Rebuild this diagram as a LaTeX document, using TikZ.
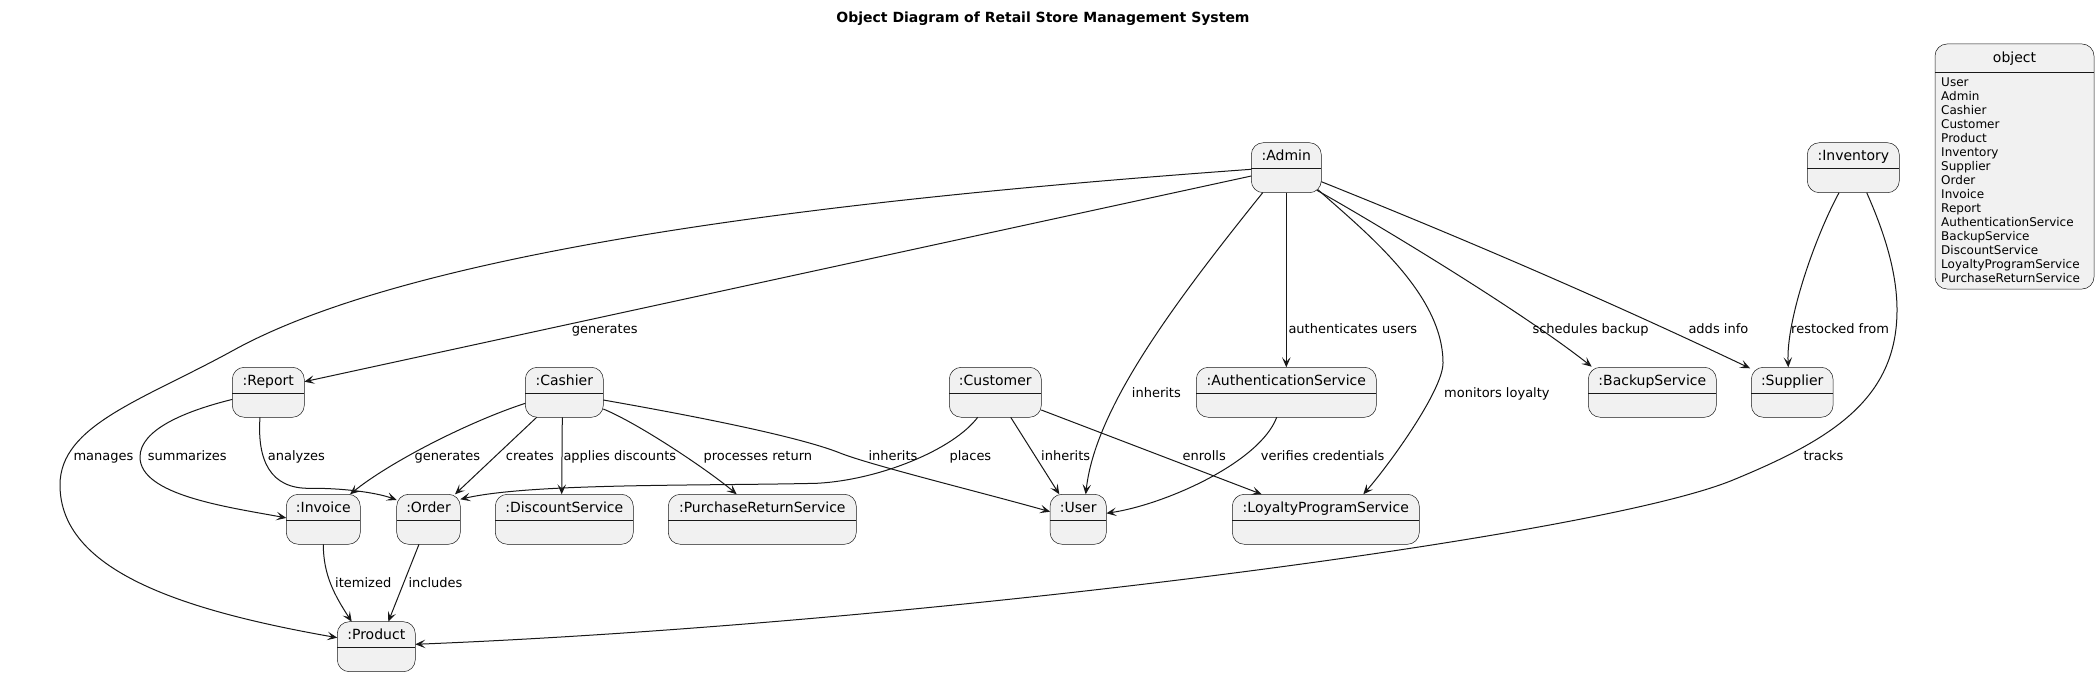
\documentclass[tikz,border=0pt]{standalone}
\usepackage{fontspec}
\setmainfont{DejaVu Sans}
\usetikzlibrary{arrows.meta}
\definecolor{ln}{HTML}{181818}
\definecolor{objfill}{HTML}{F1F1F1}
\tikzset{
  objbox/.style={draw=ln, line width=0.5pt, fill=objfill, rounded corners=12pt,
    minimum height=50pt, inner sep=0pt, outer sep=0pt},
  objrule/.style={draw=ln, line width=0.5pt},
  objname/.style={anchor=base, inner sep=0pt, font=\fontsize{14}{16}\selectfont},
  member/.style={anchor=base west, inner sep=0pt, font=\fontsize{12}{14}\selectfont},
  lbl/.style={anchor=base west, inner sep=0pt, font=\fontsize{13}{15}\selectfont},
  ttl/.style={anchor=base, inner sep=0pt, font=\fontsize{14}{16}\selectfont\bfseries},
  arr/.style={draw=ln, line width=1pt, -{Stealth[length=10pt,width=8.5pt,inset=4.5pt]}},
}
\newcommand\objnode[5]{%
  \node[objbox, minimum width=#4pt] (#1) at (#2,#3+25) {};
  \draw[objrule] (#1.west |- 0,#3+26) -- (#1.east |- 0,#3+26);
  \node[objname] (#1-name) at (#2,#3+18) {#5};
}
\begin{document}
\begin{tikzpicture}[x=1pt,y=-1pt]
\fill[white] (0,0) rectangle (2100,676);
\useasboundingbox (0,0) rectangle (2100,676);

\node[ttl] (title) at (1043,22.4) {Object Diagram of Retail Store Management System};

% objects
\objnode{admin}{1286.3}{142.7}{70}{:Admin}
\objnode{inventory}{1853.3}{142.7}{92}{:Inventory}
\objnode{report}{268.3}{367.3}{72}{:Report}
\objnode{cashier}{564.3}{367.3}{78}{:Cashier}
\objnode{customer}{995.3}{367.3}{92}{:Customer}
\objnode{auth}{1286.3}{367.3}{180}{:AuthenticationService}
\objnode{backup}{1652.3}{367.3}{128}{:BackupService}
\objnode{supplier}{1792.2}{367.3}{81.7}{:Supplier}
\objnode{invoice}{323.3}{494.3}{74}{:Invoice}
\objnode{order}{428.5}{494.3}{63.6}{:Order}
\objnode{discount}{564.3}{494.3}{138}{:DiscountService}
\objnode{prs}{762.3}{494.3}{188}{:PurchaseReturnService}
\objnode{user}{1078.2}{494.3}{56.3}{:User}
\objnode{loyalty}{1325.8}{494.3}{187}{:LoyaltyProgramService}
\objnode{product}{376.3}{621.7}{78}{:Product}

% legend object
\node[objbox, minimum width=159pt, minimum height=245pt] (legend) at (2014.5,166.5) {};
\draw[objrule] (legend.west |- 0,72) -- (legend.east |- 0,72);
\node[objname] (legend-name) at (2014.5,62.3) {object};
\foreach \m [count=\i] in {User,Admin,Cashier,Customer,Product,Inventory,Supplier,Order,Invoice,Report,AuthenticationService,BackupService,DiscountService,LoyaltyProgramService,PurchaseReturnService}
  \node[member] (m\i) at (1941,72.7+14*\i) {\m};

% edges
\draw[arr] (admin.west |- 0,169.3) .. controls (911,194) and (433,240) .. (233,350.5)
  .. controls (143,400) and (60,425) .. (60,485)
  .. controls (60,570) and (180,610) .. (product.west |- 0,637.7);
\draw[arr] (admin.west |- 0,176) -- (report.east |- 0,381.7);
\draw[arr] (admin.south -| 1262.7,0) .. controls (1170,308) and (1095,410) .. (user.north -| 1085.7,0);
\draw[arr] (admin.south) -- (auth.north);
\draw[arr] ([shift={(-3.3,-3)}]admin.south east) .. controls (1363.6,230.7) and (1443,293) .. (1443,363)
  .. controls (1443,390) and (1390,463.7) .. (loyalty.north -| 1363.3,0);
\draw[arr] ([shift={(-4.6,-2.5)}]admin.south east) .. controls (1370,220) and (1520,310) .. ([shift={(3.4,-0.6)}]backup.north west);
\draw[arr] (admin.east |- 0,181.7) .. controls (1463.7,238.7) and (1607,300.3) .. ([shift={(-1.3,1)}]supplier.north west);
\draw[arr] (inventory.south -| 1839,0) .. controls (1815,237) and (1786,320) .. (supplier.north -| 1788.3,0);
\draw[arr] (inventory.south -| 1866.7,0) .. controls (1882.7,228.8) and (1897,270) .. (1897,310)
  .. controls (1897,400) and (1830,440) .. (1733,480)
  .. controls (1595,537) and (915.3,624.3) .. (product.east |- 0,644.3);
\draw[arr] (report.west |- 0,399.4) .. controls (183.8,411.4) and (140,430) .. (140,457)
  .. controls (140,495) and (226.7,506.9) .. (invoice.west |- 0,517.9);
\draw[arr] (report.south -| 260,0) .. controls (257,460) and (270,489) .. (310,488.3)
  .. controls (340,488) and (375,492) .. (order.west |- 0,500);
\draw[arr] (cashier.west |- 0,403.3) .. controls (468.3,421.9) and (390,462) .. (invoice.north -| 350,0);
\draw[arr] (cashier.south -| 536.7,0) -- (order.north -| 455,0);
\draw[arr] (cashier.south -| 562.3,0) -- (discount.north -| 561.7,0);
\draw[arr] (cashier.east |- 0,409) .. controls (640,424.2) and (709.7,471.3) .. (prs.north -| 736.7,0);
\draw[arr] (cashier.east |- 0,400) .. controls (700,417) and (800,437) .. (840,453)
  .. controls (870,465) and (980,492) .. (user.west |- 0,511.7);
\draw[arr] (customer.south -| 977.7,0) .. controls (953.7,449.3) and (880,480) .. (816.7,483.3)
  .. controls (700,486) and (530,483) .. (order.east |- 0,499.3);
\draw[arr] (customer.south -| 1010.7,0) -- (user.north -| 1059.3,0);
\draw[arr] (customer.east |- 0,410) -- (loyalty.north -| 1261.7,0);
\draw[arr] (auth.south -| 1276.7,0) .. controls (1260,462) and (1166.1,504.3) .. (user.east |- 0,513.3);
\draw[arr] (invoice.south) .. controls (323.3,575) and (334.6,595.4) .. (product.north -| 351.7,0);
\draw[arr] (order.south -| 419,0) -- (product.north -| 388.3,0);

% labels
\node[lbl] (l-genrep) at (571.7,333) {generates};
\node[lbl] (l-auth) at (1288.3,333) {authenticates users};
\node[lbl] (l-backup) at (1532.3,333) {schedules backup};
\node[lbl] (l-adds) at (1688.3,333) {adds info};
\node[lbl] (l-restock) at (1791,333) {restocked from};
\node[lbl] (l-inhadmin) at (1131.7,397) {inherits};
\node[lbl] (l-monitor) at (1444,397) {monitors loyalty};
\node[lbl] (l-manages) at (73.3,460) {manages};
\node[lbl] (l-summ) at (147.7,460) {summarizes};
\node[lbl] (l-analyzes) at (267.7,460) {analyzes};
\node[lbl] (l-geninv) at (414.3,460) {generates};
\node[lbl] (l-creates) at (505.7,460) {creates};
\node[lbl] (l-applies) at (563.3,460) {applies discounts};
\node[lbl] (l-process) at (703.3,460) {processes return};
\node[lbl] (l-inhcash) at (868.3,460) {inherits};
\node[lbl] (l-places) at (949.3,460) {places};
\node[lbl] (l-inhcust) at (1041,460) {inherits};
\node[lbl] (l-enrolls) at (1182.3,460) {enrolls};
\node[lbl] (l-verifies) at (1260.7,460) {verifies credentials};
\node[lbl] (l-tracks) at (1803.3,460) {tracks};
\node[lbl] (l-itemized) at (335,587) {itemized};
\node[lbl] (l-includes) at (408.3,587) {includes};
\end{tikzpicture}
\end{document}
